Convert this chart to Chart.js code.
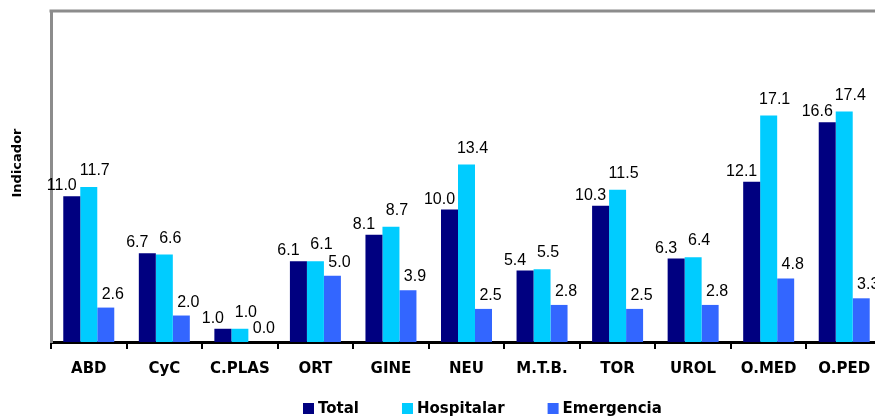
<!DOCTYPE html>
<html>
<head>
<meta charset="utf-8">
<script src="https://cdn.jsdelivr.net/npm/chart.js@4/dist/chart.umd.min.js"></script>
<style>
  html, body { margin: 0; padding: 0; background: #fff; overflow: hidden; }
  #wrap { width: 875px; height: 419px; overflow: hidden; }
</style>
</head>
<body>
<div id="wrap"><canvas id="chart1" width="884" height="419"></canvas></div>
<script>
const categories = ["ABD", "CyC", "C.PLAS", "ORT", "GINE", "NEU", "M.T.B.", "TOR", "UROL", "O.MED", "O.PED"];
const totalValues = [11.0, 6.7, 1.0, 6.1, 8.1, 10.0, 5.4, 10.3, 6.3, 12.1, 16.6];
const hospitalarValues = [11.7, 6.6, 1.0, 6.1, 8.7, 13.4, 5.5, 11.5, 6.4, 17.1, 17.4];
const emergenciaValues = [2.6, 2.0, 0.0, 5.0, 3.9, 2.5, 2.8, 2.5, 2.8, 4.8, 3.3];
const seriesNames = ["Total", "Hospitalar", "Emergencia"];
const seriesColors = ["#000080", "#00CCFF", "#3366FF"];
const yTitle = "Indicador";

// label nudges per series (Excel placed them a bit off-centre)
const labelDx = [-10, 6, 7];
const labelGap = [6, 12, 9];

const boldFont = "bold 15px 'DejaVu Sans', Verdana, sans-serif";

const extras = {
  id: "extras",
  beforeDraw(chart) {
    const { ctx, chartArea } = chart;
    ctx.save();
    // plot area top border
    ctx.strokeStyle = "#8c8c8c";
    ctx.lineWidth = 3;
    ctx.beginPath();
    ctx.moveTo(chartArea.left - 1.5, chartArea.top);
    ctx.lineTo(chartArea.right, chartArea.top);
    ctx.stroke();
    ctx.restore();
  },
  afterDatasetsDraw(chart) {
    const ctx = chart.ctx;
    ctx.save();
    ctx.fillStyle = "#000";
    ctx.font = "16px 'Liberation Sans', Arial, sans-serif";
    ctx.textAlign = "center";
    ctx.textBaseline = "alphabetic";
    chart.data.datasets.forEach((ds, i) => {
      const meta = chart.getDatasetMeta(i);
      meta.data.forEach((bar, j) => {
        ctx.fillText(ds.data[j].toFixed(1), bar.x + labelDx[i], bar.y - labelGap[i]);
      });
    });
    ctx.restore();
  },
  afterDraw(chart) {
    const ctx = chart.ctx;
    ctx.save();
    // y title
    ctx.font = "bold 13px 'DejaVu Sans', Verdana, sans-serif";
    ctx.fillStyle = "#000";
    ctx.textAlign = "center";
    ctx.textBaseline = "middle";
    ctx.translate(18, 163);
    ctx.rotate(-Math.PI / 2);
    ctx.fillText(yTitle, 0, 0);
    ctx.restore();

    // legend
    ctx.save();
    ctx.font = boldFont;
    ctx.textBaseline = "middle";
    ctx.textAlign = "left";
    let x = 303;
    const y = 409;
    seriesNames.forEach((name, i) => {
      ctx.fillStyle = seriesColors[i];
      ctx.fillRect(x, y - 6, 11, 11);
      ctx.fillStyle = "#000";
      ctx.fillText(name, x + 15, y);
      x += 15 + ctx.measureText(name).width + 43;
    });
    ctx.restore();
  }
};

const ctx1 = document.getElementById("chart1").getContext("2d");
new Chart(ctx1, {
  type: "bar",
  data: {
    labels: categories,
    datasets: [
      { label: seriesNames[0], data: totalValues, backgroundColor: seriesColors[0] },
      { label: seriesNames[1], data: hospitalarValues, backgroundColor: seriesColors[1] },
      { label: seriesNames[2], data: emergenciaValues, backgroundColor: seriesColors[2] }
    ]
  },
  options: {
    responsive: false,
    animation: false,
    events: [],
    layout: { padding: { left: 43, right: 2, top: 11, bottom: 30 } },
    datasets: { bar: { categoryPercentage: 0.675, barPercentage: 1.0 } },
    plugins: {
      legend: { display: false },
      tooltip: { enabled: false },
      title: { display: false }
    },
    scales: {
      x: {
        grid: {
          display: true,
          offset: true,
          drawOnChartArea: false,
          drawTicks: true,
          tickLength: 7,
          color: "#000",
          lineWidth: 2
        },
        border: { display: true, color: "#000", width: 3 },
        ticks: {
          color: "#000",
          font: { family: "'DejaVu Sans', Verdana, sans-serif", size: 15, weight: "bold" },
          padding: 11,
          maxRotation: 0,
          autoSkip: false
        }
      },
      y: {
        min: 0,
        max: 25,
        grid: { display: false },
        border: { display: true, color: "#8c8c8c", width: 3 },
        ticks: { display: false }
      }
    }
  },
  plugins: [extras]
});
</script>
</body>
</html>
